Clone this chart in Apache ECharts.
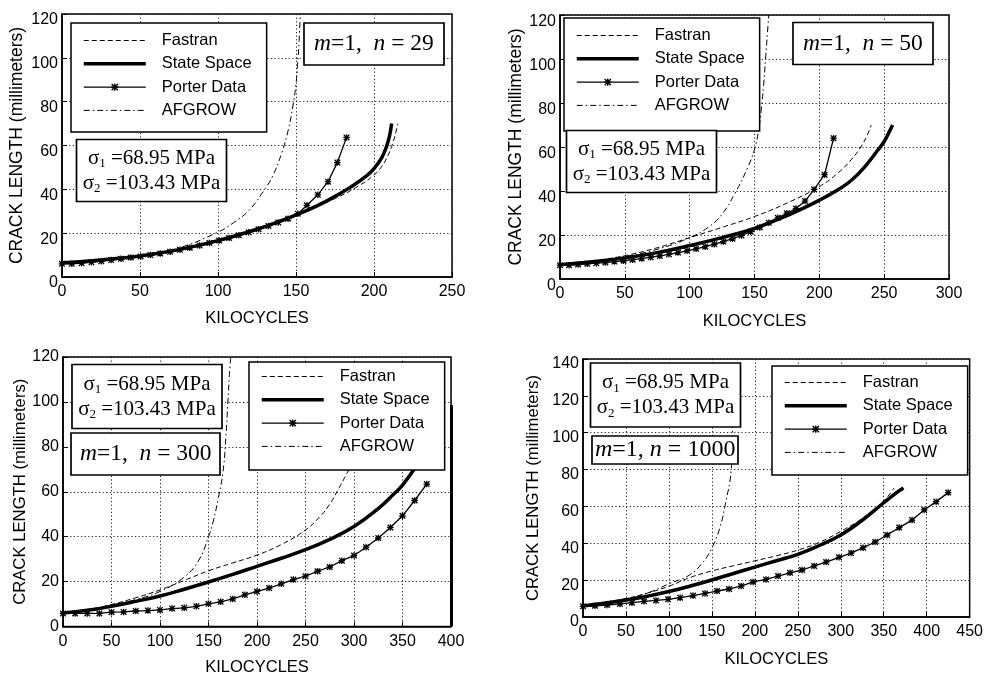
<!DOCTYPE html>
<html><head><meta charset="utf-8">
<script src="https://cdn.jsdelivr.net/npm/echarts@6/dist/echarts.min.js"></script>
<style>html,body{margin:0;padding:0;background:#fff}#c{width:986px;height:677px}</style>
</head><body><div id="c"></div>
<script>
// ---- data (kilocycles, crack length mm) ----
const seriesNames = ['Fastran', 'State Space', 'Porter Data', 'AFGROW'];
const xMax = [250, 300, 400, 450];
const yMax = [120, 120, 120, 140];
const nLabels = ['29', '50', '300', '1000'];

const p1Fastran = [[0,6.5],[25,7.6],[50,9.3],[75,12.2],[100,16.2],[125,21.5],[150,28.3],[175,35.8],[190,41.5],[200,46.5],[205,50.5],[209,55.5],[212,61],[214,66],[215.3,70]];
const p1State = [[0,6.5],[25,7.8],[50,9.6],[75,12.5],[100,16.6],[125,21.8],[150,28.3],[165,33],[175,36.8],[185,41],[195,46],[200,49.5],[205,54.5],[208,59.5],[210,64.5],[211.3,70]];
const p1PorterX = [0,6.3,12.6,18.9,25.2,31.5,37.8,44.1,50.4,56.7,63,69.3,75.6,81.9,88.2,94.5,100.8,107.1,113.4,119.7,126,132.3,138.6,144.9,151.2,157,164,170.5,176.5,182.4];
const p1PorterY = [6.0,6.0,6.3,6.7,7.2,7.7,8.3,8.9,9.4,10.0,10.7,11.5,12.4,13.4,14.4,15.5,16.6,17.8,19.0,20.4,21.8,23.3,24.9,26.6,28.9,32.7,37.5,43.5,52.2,63.7];
const p1Afgrow = [[0,6.5],[25,7.8],[50,9.8],[75,13.3],[100,20.5],[110,24.8],[120,30.5],[129,39],[135,46],[141,57],[145,67],[148,78],[150,88],[151,97],[152,108],[152.7,120]];

const p2Fastran = [[0,6.5],[25,8.2],[50,10.6],[75,14.2],[100,18.8],[125,23.5],[150,28.4],[175,34.5],[200,42],[215,48.5],[225,54.5],[232,60],[237,65.5],[240,70]];
const p2State = [[0,6.5],[25,7.8],[50,9.6],[75,12.0],[100,15.2],[125,18.8],[150,23],[175,28.8],[200,35.8],[215,40.8],[225,45],[235,51],[245,58.5],[250,62.5],[254,67],[256.5,70]];
const p2PorterX = [0,7,14,21,28,35,42,49,56,63,70,77,84,91,98,105,112,119,126,133,140,147,154,161,168,175,182,189,196,204,211];
const p2PorterY = [6.3,6.3,6.6,6.9,7.2,7.5,7.9,8.3,8.8,9.3,9.9,10.5,11.2,12.0,12.8,13.7,14.7,15.8,17.0,18.3,19.8,21.5,23.4,25.6,27.8,29.9,32.0,35.4,40.7,47.4,64];
const p2Afgrow = [[0,6.5],[25,8],[50,10.2],[75,13.5],[100,18.8],[115,23.8],[125,29.5],[135,39],[145,51],[150,59],[153,67],[155,76],[157,88],[158.5,100],[160,112],[161,120]];

const p3Fastran = [[0,6],[25,7.5],[50,9.8],[75,12.8],[100,16.3],[125,20.5],[150,24.8],[175,28.3],[200,31.8],[225,36.5],[250,43],[265,49],[275,54.5],[285,62],[290,66],[295,70]];
const p3State = [[0,6],[25,7.2],[50,9],[75,11.2],[100,13.6],[125,16.6],[150,19.8],[175,23.2],[200,26.8],[225,30.4],[250,34.2],[275,38.8],[300,44.5],[325,52.5],[340,58.5],[350,63],[362,70]];
const p3PorterX = [0,12.5,25,37.5,50,62.5,75,87.5,100,112.5,125,137.5,150,162.5,175,187.5,200,212.5,225,237.5,250,262.5,275,287.5,300,312.5,325,337.5,350,362.5,375];
const p3PorterY = [5.8,5.8,5.8,5.8,6.4,6.5,6.9,7.1,7.4,8.0,8.3,9.0,10.1,11.0,12.3,14.1,15.6,17.1,19.0,20.9,22.4,24.6,26.5,29.3,31.6,35.3,39.4,44.1,49.3,56.1,63.4];
const p3Afgrow = [[0,6],[25,7.5],[50,9.5],[75,12],[100,15.6],[125,22],[140,29.5],[150,40],[155,47],[160,57],[165,69],[168,85],[170,100],[172,115],[173,120]];
const p3EdgeLine = [[400,0],[400,98.5]];

const p4Fastran = [[0,6],[25,8],[50,10],[75,13],[100,16.7],[125,21.5],[150,25],[175,27.8],[200,30.5],[225,33.2],[250,36.3],[275,40.5],[300,46.5],[325,53.5],[350,63],[362,70]];
const p4State = [[0,6],[25,7.5],[50,9.2],[75,11.3],[100,13.8],[125,16.8],[150,20.1],[175,23.6],[200,27.1],[225,30.5],[250,34],[275,38.8],[300,44.5],[325,52.5],[350,62],[365,67.5],[373,70]];
const p4PorterX = [0,14,28,43,57,71,85,99,113,128,142,156,170,184,198,213,227,241,255,269,283,298,312,326,340,354,368,383,397,411,425];
const p4PorterY = [5.8,6.1,6.5,7.1,7.8,8.5,9.0,9.6,10.5,11.6,12.8,14.1,15.2,16.8,19.0,20.4,22.2,24.0,25.5,27.7,29.8,32.4,34.7,37.6,40.7,44.5,48.5,52.6,58.1,62.6,67.5];
const p4Afgrow = [[0,6],[25,7.8],[50,9.8],[75,13],[100,18],[124,22.8],[140,30],[150,37.5],[159,48],[166,62],[172.5,80],[174,100],[175,120]];

const panels = [
  {fastran:p1Fastran, state:p1State, px:p1PorterX, py:p1PorterY, afgrow:p1Afgrow},
  {fastran:p2Fastran, state:p2State, px:p2PorterX, py:p2PorterY, afgrow:p2Afgrow},
  {fastran:p3Fastran, state:p3State, px:p3PorterX, py:p3PorterY, afgrow:p3Afgrow, edge:p3EdgeLine},
  {fastran:p4Fastran, state:p4State, px:p4PorterX, py:p4PorterY, afgrow:p4Afgrow}
];

// ---- layout / style ----
const grids = [
  {left:62, top:10, width:390, height:267},
  {left:560, top:13, width:389, height:266},
  {left:63, top:357, width:388, height:270},
  {left:583, top:359, width:387, height:258}
];
const yLabelOff = [6, 7, 0, 5];
const yNameGap = [36, 34.5, 31.5, 41.5];
const yNameSize = [17.5, 17.5, 16.7, 16.7];
const xNameGap = [32.5, 34, 32.5, 33.5];
const legendPos = [
  {left:71, top:23, padding:[9,15,13,11]},
  {left:564, top:18, padding:[9,15,17,11]},
  {left:249, top:362, padding:[6,15,15,11]},
  {left:772, top:366, padding:[8,15,14,11]}
];
const SHIFT = 69;
const sigmaPos = [
  {left:76 + SHIFT, top:139, padding:[6.5,6.5,6.5,6.5]},
  {left:566 + SHIFT, top:130, padding:[6.5,6.5,6.5,6.5]},
  {left:72 + SHIFT, top:364, padding:[7.5,6,7.5,6]},
  {left:590 + SHIFT, top:363, padding:[7,6.5,7,6.5]}
];
const mPos = [
  {left:304, top:23, padding:[8,10,8,10]},
  {left:793, top:22, padding:[8.5,10,8.5,10]},
  {left:71, top:433, padding:[8,9,8,9]},
  {left:592, top:436, padding:[1,3,1,3]}
];
const SANS = "'Liberation Sans',Arial,sans-serif";
const SERIF = "'Liberation Serif','Times New Roman',serif";
const STAR = 'path://M4,0L6,0L6,10L4,10Z M0,4L10,4L10,6L0,6Z M1.4,0L10,8.6L8.6,10L0,1.4Z M8.6,0L10,1.4L1.4,10L0,8.6Z';

const option = {animation:false, backgroundColor:'#fff', grid:[], xAxis:[], yAxis:[], series:[], legend:[], title:[]};

panels.forEach((p, i) => {
  option.grid.push(Object.assign({show:true, borderColor:'#000', borderWidth:1.5, containLabel:false}, grids[i]));
  const splitLine = {show:true, lineStyle:{color:'#222', type:[1.2,2.4], width:1}};
  option.xAxis.push({
    type:'value', gridIndex:i, min:0, max:xMax[i], interval:50,
    name:'KILOCYCLES', nameLocation:'middle', nameGap:xNameGap[i],
    nameTextStyle:{fontFamily:SANS, fontSize:16.5, color:'#000'},
    axisLine:{show:true, onZero:false, lineStyle:{color:'#000', width:1.5}},
    axisTick:{show:true, inside:true, length:5, lineStyle:{color:'#000'}},
    axisLabel:{fontFamily:SANS, fontSize:16, color:'#000', margin:7},
    splitLine:splitLine
  });
  option.yAxis.push({
    type:'value', gridIndex:i, min:0, max:yMax[i], interval:20,
    name:'CRACK LENGTH (millimeters)', nameLocation:'middle', nameGap:yNameGap[i],
    nameTextStyle:{fontFamily:SANS, fontSize:yNameSize[i], color:'#000'},
    axisLine:{show:true, onZero:false, lineStyle:{color:'#000', width:1.5}},
    axisTick:{show:true, inside:true, length:5, lineStyle:{color:'#000'}},
    axisLabel:{margin:4, formatter:'{a|{value}}',
      rich:{a:{fontFamily:SANS, fontSize:16, color:'#000', lineHeight:16, padding:[2 * yLabelOff[i],0,0,0]}}},
    splitLine:splitLine
  });
  const base = {type:'line', xAxisIndex:i, yAxisIndex:i, showSymbol:false, symbol:'circle', itemStyle:{color:'transparent'}, silent:true, smooth:0.45};
  option.series.push(Object.assign({}, base, {name:'Fastran', data:p.fastran, z:3,
    lineStyle:{color:'#000', width:1, type:[5,3]}}));
  const stateSeries = Object.assign({}, base, {name:'State Space', data:p.state, z:4,
    lineStyle:{color:'#000', width:3.5}});
  if (p.edge) {
    stateSeries.markLine = {silent:true, symbol:['none','none'], label:{show:false},
      lineStyle:{color:'#000', width:3, type:'solid'},
      data:[[{coord:p.edge[0]}, {coord:p.edge[1]}]]};
  }
  option.series.push(stateSeries);
  option.series.push({type:'line', xAxisIndex:i, yAxisIndex:i, name:'Porter Data', silent:true, z:5,
    data:p.px.map((x, k) => [x, p.py[k]]), showSymbol:true, symbol:STAR, symbolSize:6.5,
    itemStyle:{color:'#000'}, lineStyle:{color:'#000', width:1.3}});
  option.series.push(Object.assign({}, base, {name:'AFGROW', data:p.afgrow, z:3,
    lineStyle:{color:'#000', width:1, type:[6,3,1.5,3]}}));

  option.legend.push(Object.assign({
    orient:'vertical', itemWidth:62, itemHeight:9, itemGap:6.3, selectedMode:false,
    borderColor:'#000', borderWidth:1.5, backgroundColor:'#fff', borderRadius:0, z:8,
    lineStyle:{width:'inherit', type:'inherit'},
    textStyle:{fontFamily:SANS, fontSize:16.5, color:'#000', lineHeight:16, padding:[0,0,0,11]},
    data:seriesNames.slice()
  }, legendPos[i]));

  option.title.push(Object.assign({
    text:'{g|σ}{s|1}{t| =68.95 MPa}\n{g|σ}{s|2}{t| =103.43 MPa}', textAlign:'center',
    borderColor:'#000', borderWidth:1.7, backgroundColor:'#fff', z:9,
    textStyle:{fontFamily:SERIF, fontSize:21, color:'#000', fontWeight:'normal', lineHeight:25,
      rich:{g:{fontFamily:SERIF, fontSize:21, lineHeight:25, color:'#000'},
            t:{fontFamily:SERIF, fontSize:21, lineHeight:25, color:'#000'},
            s:{fontFamily:SERIF, fontSize:13, lineHeight:13, verticalAlign:'bottom', color:'#000'}}}
  }, sigmaPos[i]));
  const sep = i === 3 ? ', ' : ',  ';
  const fs = i === 3 ? 24 : 23.5;
  option.title.push(Object.assign({
    text:'{i|m}{r|=1' + sep + '}{i|n}{r| = ' + nLabels[i] + '}',
    borderColor:'#000', borderWidth:1.7, backgroundColor:'#fff', z:9,
    textStyle:{fontFamily:SERIF, fontSize:fs, color:'#000', fontWeight:'normal', lineHeight:26,
      rich:{i:{fontFamily:SERIF, fontSize:fs, fontStyle:'italic', lineHeight:26, color:'#000'},
            r:{fontFamily:SERIF, fontSize:fs, lineHeight:26, color:'#000'}}}
  }, mPos[i]));
});

const chart = echarts.init(document.getElementById('c'), null, {renderer:'canvas'});
chart.setOption(option);
</script>
</body></html>
